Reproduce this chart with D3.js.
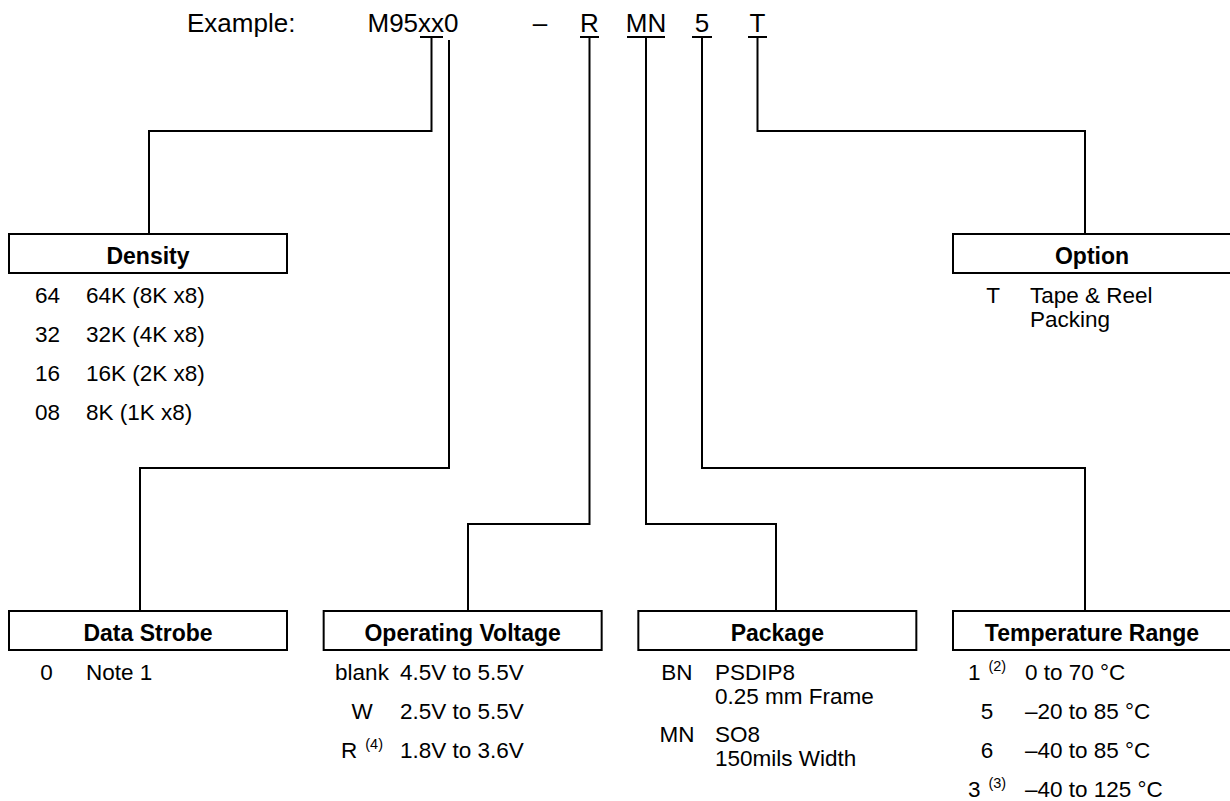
<!DOCTYPE html>
<html><head><meta charset="utf-8">
<script src="https://cdn.jsdelivr.net/npm/d3@7"></script>
<style>body{margin:0;background:#fff}svg{display:block}</style>
</head><body><svg id="c" width="1230" height="801"></svg>
<script>
// ---------- data ----------
const exampleLabel = "Example:";
const exampleBase = "M95xx0";
const dashPart = "–";
const codeParts = ["R", "MN", "5", "T"];
const groupTitles = ["Density", "Option", "Data Strobe", "Operating Voltage", "Package", "Temperature Range"];
const densityCodes = ["64", "32", "16", "08"];
const densityDesc = ["64K (8K x8)", "32K (4K x8)", "16K (2K x8)", "8K (1K x8)"];
const optionCodes = ["T"];
const optionDesc = [["Tape & Reel", "Packing"]];
const strobeCodes = ["0"];
const strobeDesc = ["Note 1"];
const voltageCodes = ["blank", "W", "R"];
const voltageNotes = ["", "", "(4)"];
const voltageDesc = ["4.5V to 5.5V", "2.5V to 5.5V", "1.8V to 3.6V"];
const packageCodes = ["BN", "MN"];
const packageDesc = [["PSDIP8", "0.25 mm Frame"], ["SO8", "150mils Width"]];
const tempCodes = ["1", "5", "6", "3"];
const tempNotes = ["(2)", "", "", "(3)"];
const tempDesc = ["0 to 70 °C", "–20 to 85 °C", "–40 to 85 °C", "–40 to 125 °C"];

// ---------- layout ----------
const FONT = "'Liberation Sans', Arial, sans-serif";
const HFS = 26, FS = 22.5, TFS = 23, SUPFS = 14.5;
const svg = d3.select("#c");
const boxX = d3.scaleLinear().domain([0, 3]).range([9, 953]);
const boxW = 278, boxH = 39;
const topBoxY = 234, botBoxY = 611;
const rowStep = 38.9, subStep = 23.5;
const topRowY = d3.scaleLinear().domain([0, 1]).range([topBoxY + boxH + 30, topBoxY + boxH + 30 + rowStep]);
const botRowY = d3.scaleLinear().domain([0, 1]).range([botBoxY + boxH + 30, botBoxY + boxH + 30 + rowStep]);
const ulY = 37, baseY = 32;

const line = d3.line();
const stroke = (sel) => sel.attr("fill", "none").attr("stroke", "#000").attr("stroke-width", 2);

function text(x, y, s, opts = {}) {
  return svg.append("text").attr("x", x).attr("y", y)
    .attr("font-family", FONT).attr("font-size", opts.size || FS)
    .attr("font-weight", opts.bold ? "bold" : "normal")
    .attr("text-anchor", opts.anchor || "start").attr("fill", "#000").text(s);
}
function codeWithNote(x, y, code, note, anchor) {
  const t = svg.append("text").attr("x", x).attr("y", y)
    .attr("font-family", FONT).attr("font-size", FS).attr("text-anchor", anchor || "start");
  t.append("tspan").text(code);
  if (note) {
    t.append("tspan").attr("dx", 8).attr("dy", -9).attr("font-size", SUPFS).text(note);
  }
  return t;
}

// header
text(187, baseY, exampleLabel, { size: HFS });
text(367.5, baseY, exampleBase, { size: HFS });
text(540, baseY, dashPart, { anchor: "middle", size: HFS });
const partCenters = [589.5, 646, 702, 757.5];
const partHalf = [9.5, 19, 10, 9.5];
codeParts.forEach((p, i) => text(partCenters[i], baseY, p, { anchor: "middle", size: HFS }));

// underline segments
const underlines = [[420, 443]].concat(partCenters.map((c, i) => [c - partHalf[i], c + partHalf[i]]));
underlines.forEach(u => svg.append("path").attr("d", line([[u[0], ulY], [u[1], ulY]])).call(stroke));

// boxes
const boxes = [
  { x: boxX(0), y: topBoxY }, { x: boxX(3), y: topBoxY },
  { x: boxX(0), y: botBoxY }, { x: boxX(1), y: botBoxY }, { x: boxX(2), y: botBoxY }, { x: boxX(3), y: botBoxY }
];
boxes.forEach((b, i) => {
  svg.append("rect").attr("x", b.x).attr("y", b.y).attr("width", boxW).attr("height", boxH)
    .attr("fill", "#fff").attr("stroke", "#000").attr("stroke-width", 2);
  text(b.x + boxW / 2, b.y + 30, groupTitles[i], { bold: true, size: TFS, anchor: "middle" });
});

// connectors
const midY1 = 131, midY2 = 468, midY3 = 524;
const connectors = [
  [[431.5, ulY], [431.5, midY1], [149, midY1], [149, topBoxY]],
  [[757.5, ulY], [757.5, midY1], [1085, midY1], [1085, topBoxY]],
  [[449, 40], [449, midY2], [140, midY2], [140, botBoxY]],
  [[589.5, ulY], [589.5, midY3], [468, midY3], [468, botBoxY]],
  [[646, ulY], [646, midY3], [776, midY3], [776, botBoxY]],
  [[702, ulY], [702, midY2], [1085, midY2], [1085, botBoxY]]
];
connectors.forEach(c => svg.append("path").attr("d", line(c)).call(stroke));

// Density rows
densityCodes.forEach((c, i) => {
  text(47.5, topRowY(i), c, { anchor: "middle" });
  text(86, topRowY(i), densityDesc[i]);
});
// Option rows
optionCodes.forEach((c, i) => {
  text(993, topRowY(i), c, { anchor: "middle" });
  optionDesc[i].forEach((d, j) => text(1030, topRowY(i) + j * subStep, d));
});
// Data strobe
strobeCodes.forEach((c, i) => {
  text(46.5, botRowY(i), c, { anchor: "middle" });
  text(86, botRowY(i), strobeDesc[i]);
});
// Operating voltage
voltageCodes.forEach((c, i) => {
  codeWithNote(362, botRowY(i), c, voltageNotes[i], "middle");
  text(400, botRowY(i), voltageDesc[i]);
});
// Package
packageCodes.forEach((c, i) => {
  const y = botRowY(0) + i * (rowStep + subStep);
  text(677, y, c, { anchor: "middle" });
  packageDesc[i].forEach((d, j) => text(715, y + j * subStep, d));
});
// Temperature
tempCodes.forEach((c, i) => {
  codeWithNote(987, botRowY(i), c, tempNotes[i], "middle");
  text(1025, botRowY(i), tempDesc[i]);
});
</script></body></html>
